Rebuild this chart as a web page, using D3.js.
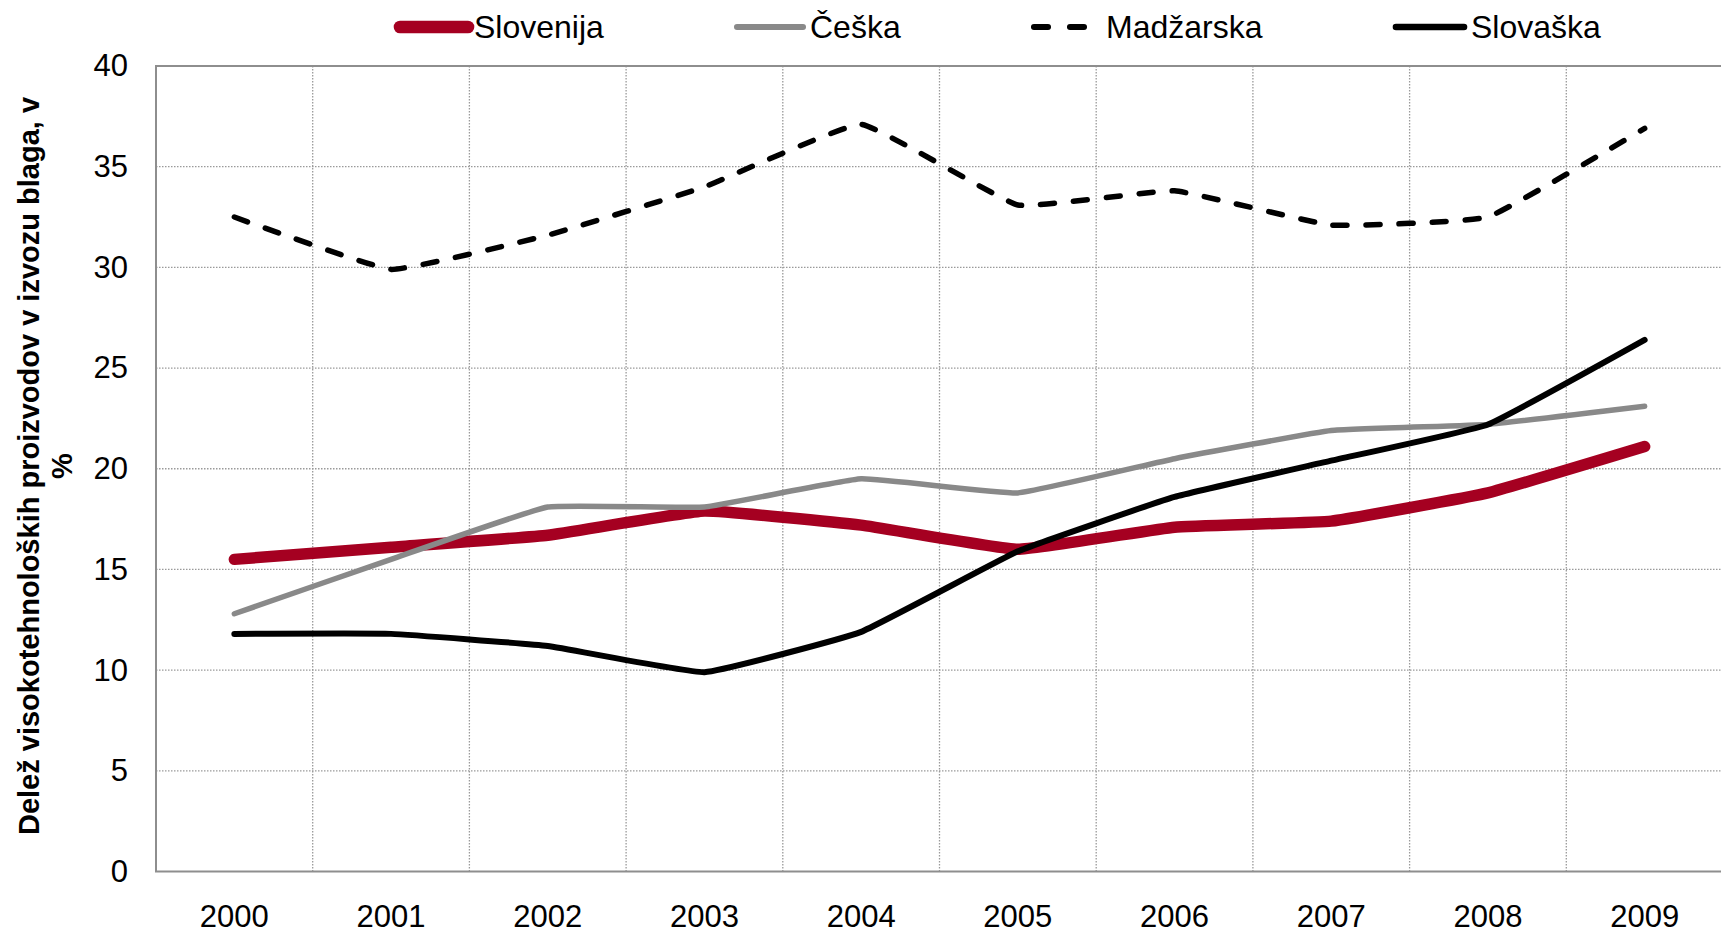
<!DOCTYPE html>
<html>
<head>
<meta charset="utf-8">
<script src="https://cdn.jsdelivr.net/npm/d3@7"></script>
<style>
  html, body { margin: 0; padding: 0; background: #fff; }
  svg { display: block; font-family: "Liberation Sans", Arial, sans-serif; }
</style>
</head>
<body>
<svg id="chart" width="1721" height="934"></svg>
<script>
// data
var years = ['2000', '2001', '2002', '2003', '2004', '2005', '2006', '2007', '2008', '2009']
var slovenija = [15.5, 16.1, 16.7, 17.9, 17.2, 16.0, 17.1, 17.4, 18.8, 21.1]
var ceska = [12.8, 15.5, 18.1, 18.1, 19.5, 18.8, 20.5, 21.9, 22.2, 23.1]
var madzarska = [32.5, 29.9, 31.6, 34.0, 37.1, 33.1, 33.8, 32.1, 32.5, 36.9]
var slovaska = [11.8, 11.8, 11.2, 9.9, 11.9, 15.9, 18.6, 20.4, 22.2, 26.4]
var yTicks = [0, 5, 10, 15, 20, 25, 30, 35, 40]
var yTitle = ['Delež visokotehnoloških proizvodov v izvozu blaga, v', '%']

var series = [
  {name: 'Slovenija', values: slovenija, color: '#a50021', width: 11.5, dash: null},
  {name: 'Češka', values: ceska, color: '#898989', width: 5.5, dash: null},
  {name: 'Madžarska', values: madzarska, color: '#000', width: 5.5, dash: '14,19'},
  {name: 'Slovaška', values: slovaska, color: '#000', width: 6, dash: null}
]
// legend layout: line start x, line end x, text x
var legendPos = [[400, 468, 474], [737, 803, 810], [1034, 1088, 1106], [1396, 1464, 1471]]

var svg = d3.select('#chart')
var pLeft = 156, pTop = 66, pBottom = 871.5, pRight = 1723

var x = d3.scaleBand().domain(years).range([pLeft, pRight]).padding(0)
var y = d3.scaleLinear().domain([0, 40]).range([pBottom, pTop])
var cx = function(i) { return x(years[i]) + x.bandwidth() / 2 }

// grid
var grid = svg.append('g').attr('class', 'grid')
grid.selectAll('line.h')
  .data(yTicks.filter(function(d) { return d > 0 && d < 40 }))
  .enter().append('line')
  .attr('class', 'h')
  .attr('x1', pLeft).attr('x2', pRight)
  .attr('y1', function(d) { return y(d) }).attr('y2', function(d) { return y(d) })
grid.selectAll('line.v')
  .data(years.slice(1))
  .enter().append('line')
  .attr('class', 'v')
  .attr('x1', function(d) { return x(d) }).attr('x2', function(d) { return x(d) })
  .attr('y1', pTop).attr('y2', pBottom)
grid.selectAll('line')
  .attr('stroke', '#9a9a9a')
  .attr('stroke-width', 1.3)
  .attr('stroke-dasharray', '1.5,1.5')

// frame
svg.append('path')
  .attr('d', 'M' + pRight + ',' + pTop + 'H' + pLeft + 'V' + pBottom + 'H' + pRight)
  .attr('fill', 'none')
  .attr('stroke', '#8e8e8e')
  .attr('stroke-width', 2)

// y axis
var yAxis = svg.append('g')
  .attr('transform', 'translate(' + pLeft + ',0)')
  .call(d3.axisLeft(y).tickValues(yTicks).tickSize(0).tickPadding(28))
yAxis.select('.domain').remove()
yAxis.selectAll('text')
  .attr('font-size', 31)
  .attr('font-family', '"Liberation Sans", Arial, sans-serif')
  .attr('fill', '#000')

// x axis
var xAxis = svg.append('g')
  .attr('transform', 'translate(0,' + pBottom + ')')
  .call(d3.axisBottom(x).tickSize(0).tickPadding(33))
xAxis.select('.domain').remove()
xAxis.selectAll('text')
  .attr('font-size', 31)
  .attr('font-family', '"Liberation Sans", Arial, sans-serif')
  .attr('fill', '#000')

// y title
var title = svg.append('text')
  .attr('transform', 'translate(39,' + 466 + ') rotate(-90)')
  .attr('text-anchor', 'middle')
  .attr('font-size', 29)
  .attr('font-weight', 'bold')
  .attr('fill', '#000')
title.selectAll('tspan')
  .data(yTitle)
  .enter().append('tspan')
  .attr('x', 0)
  .attr('dy', function(d, i) { return i ? 33 : 0 })
  .text(function(d) { return d })

// lines, only lightly smoothed
var line = d3.line()
  .x(function(d, i) { return cx(i) })
  .y(function(d) { return y(d) })
  .curve(d3.curveCardinal.tension(0.7))

svg.append('g').selectAll('path')
  .data(series)
  .enter().append('path')
  .attr('d', function(s) { return line(s.values) })
  .attr('fill', 'none')
  .attr('stroke', function(s) { return s.color })
  .attr('stroke-width', function(s) { return s.width })
  .attr('stroke-dasharray', function(s) { return s.dash })
  .attr('stroke-linecap', 'round')
  .attr('stroke-linejoin', 'round')

// legend
var leg = svg.append('g').selectAll('g')
  .data(series)
  .enter().append('g')
leg.append('line')
  .attr('x1', function(s, i) { return legendPos[i][0] })
  .attr('x2', function(s, i) { return legendPos[i][1] })
  .attr('y1', 27).attr('y2', 27)
  .attr('stroke', function(s) { return s.color })
  .attr('stroke-width', function(s) { return s.width * 1.1 })
  .attr('stroke-dasharray', function(s) { return s.dash ? '14,22' : null })
  .attr('stroke-linecap', 'round')
leg.append('text')
  .attr('x', function(s, i) { return legendPos[i][2] })
  .attr('y', 38)
  .attr('font-size', 32)
  .attr('fill', '#000')
  .text(function(s) { return s.name })
</script>
</body>
</html>
